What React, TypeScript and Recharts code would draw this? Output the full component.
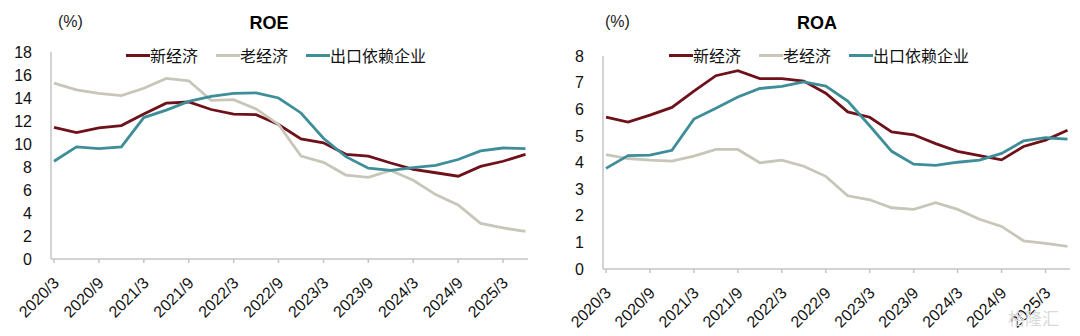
import { LineChart, Line, XAxis, YAxis } from "recharts";

const FONT = '"Liberation Sans", Arial, "Noto Sans CJK SC", sans-serif';
const CJK = '"Noto Sans CJK SC", "Liberation Sans", sans-serif';

const quarters = [
  "2020/3", "2020/6", "2020/9", "2020/12",
  "2021/3", "2021/6", "2021/9", "2021/12",
  "2022/3", "2022/6", "2022/9", "2022/12",
  "2023/3", "2023/6", "2023/9", "2023/12",
  "2024/3", "2024/6", "2024/9", "2024/12",
  "2025/3", "2025/6",
];

// ROE (%)
const roeNew = [11.45, 11.0, 11.4, 11.6, 12.6, 13.55, 13.65, 13.0, 12.6, 12.55, 11.7, 10.45, 10.1, 9.1, 8.95, 8.35, 7.8, 7.5, 7.2, 8.05, 8.5, 9.1];
const roeOld = [15.3, 14.7, 14.4, 14.2, 14.85, 15.7, 15.5, 13.8, 13.85, 13.05, 11.7, 8.95, 8.4, 7.3, 7.1, 7.7, 6.85, 5.6, 4.7, 3.1, 2.7, 2.4];
const roeExport = [8.5, 9.75, 9.6, 9.75, 12.3, 12.95, 13.7, 14.15, 14.4, 14.45, 14.0, 12.7, 10.5, 8.9, 7.9, 7.7, 7.95, 8.15, 8.65, 9.4, 9.65, 9.6];

// ROA (%)
const roaNew = [5.7, 5.52, 5.78, 6.07, 6.68, 7.26, 7.45, 7.15, 7.15, 7.06, 6.6, 5.9, 5.7, 5.15, 5.04, 4.71, 4.42, 4.26, 4.1, 4.6, 4.84, 5.21];
const roaOld = [4.3, 4.15, 4.09, 4.05, 4.24, 4.49, 4.49, 3.99, 4.09, 3.86, 3.48, 2.75, 2.6, 2.3, 2.24, 2.49, 2.24, 1.87, 1.6, 1.06, 0.96, 0.85];
const roaExport = [3.78, 4.26, 4.28, 4.46, 5.63, 6.04, 6.46, 6.78, 6.86, 7.03, 6.87, 6.31, 5.38, 4.42, 3.94, 3.89, 4.01, 4.09, 4.34, 4.81, 4.93, 4.88];

const roeTicks = [0, 2, 4, 6, 8, 10, 12, 14, 16, 18];
const roaTicks = [0, 1, 2, 3, 4, 5, 6, 7, 8];

const SERIES = [
  { key: "newEco", name: "新经济", color: "#6e111a" },
  { key: "oldEco", name: "老经济", color: "#c7c6b9" },
  { key: "exportDep", name: "出口依赖企业", color: "#3e8e9a" },
];

const AXIS = "#c4c4c4";

function buildRows(a: number[], b: number[], c: number[]) {
  return quarters.map((q, i) => ({ q, newEco: a[i], oldEco: b[i], exportDep: c[i] }));
}

function XTick({ x, y, payload }: any) {
  const ax = x + 6;
  const ay = y + 19;
  return (
    <text
      x={ax}
      y={ay}
      transform={`rotate(-45, ${ax}, ${ay})`}
      textAnchor="end"
      fontSize={16}
      fontFamily={FONT}
      fill="#111"
    >
      {payload.value}
    </text>
  );
}

function Panel({ cfg }: { cfg: any }) {
  const data = buildRows(cfg.a, cfg.b, cfg.c);
  return (
    <div style={{ position: "absolute", left: cfg.left, top: 0, width: 540, height: 336 }}>
      <LineChart
        width={540}
        height={336}
        data={data}
        margin={{ top: cfg.plotTop, right: 540 - cfg.plotRight, left: 0, bottom: 0 }}
      >
        <XAxis
          dataKey="q"
          interval={1}
          height={336 - cfg.plotBottom}
          padding={{ left: 3, right: 2.5 }}
          axisLine={{ stroke: AXIS, strokeWidth: 1.5 }}
          tickLine={{ stroke: AXIS, strokeWidth: 1.5 }}
          tickSize={4}
          tickMargin={2}
          tick={<XTick />}
        />
        <YAxis
          width={cfg.plotLeft}
          domain={[0, cfg.yMax]}
          ticks={cfg.ticks}
          interval={0}
          axisLine={{ stroke: AXIS, strokeWidth: 1.5 }}
          tickLine={false}
          tickSize={0}
          tickMargin={19}
          tick={{ fontSize: 16, fill: "#111", fontFamily: FONT }}
        />
        {SERIES.map((s) => (
          <Line
            key={s.key}
            type="linear"
            dataKey={s.key}
            name={s.name}
            stroke={s.color}
            strokeWidth={2.8}
            dot={false}
            isAnimationActive={false}
          />
        ))}
      </LineChart>
      <div
        style={{
          position: "absolute",
          left: cfg.pctX,
          top: 13,
          fontFamily: FONT,
          fontSize: 16,
          lineHeight: "18px",
          color: "#222",
        }}
      >
        (%)
      </div>
      <div
        style={{
          position: "absolute",
          left: cfg.titleX - 40,
          width: 80,
          textAlign: "center",
          top: 13,
          fontFamily: FONT,
          fontSize: 18,
          fontWeight: "bold",
          lineHeight: "20px",
          color: "#000",
        }}
      >
        {cfg.title}
      </div>
      <div
        style={{
          position: "absolute",
          left: cfg.legendX,
          top: 45,
          display: "flex",
          alignItems: "center",
          fontFamily: CJK,
          fontSize: 16,
          lineHeight: "20px",
          color: "#111",
          whiteSpace: "nowrap",
        }}
      >
        {SERIES.map((s, i) => (
          <div key={s.key} style={{ display: "flex", alignItems: "center", marginRight: i < 2 ? 18 : 0 }}>
            <span style={{ display: "inline-block", width: 24, height: 3, background: s.color }} />
            <span>{s.name}</span>
          </div>
        ))}
      </div>
    </div>
  );
}

const panels = [
  {
    left: 0, title: "ROE", a: roeNew, b: roeOld, c: roeExport, yMax: 18, ticks: roeTicks,
    plotLeft: 51, plotTop: 52, plotBottom: 259, plotRight: 528,
    titleX: 269, pctX: 58, legendX: 126,
  },
  {
    left: 540, title: "ROA", a: roaNew, b: roaOld, c: roaExport, yMax: 8, ticks: roaTicks,
    plotLeft: 63, plotTop: 56, plotBottom: 269, plotRight: 530,
    titleX: 277, pctX: 65, legendX: 129,
  },
];

export default function App() {
  return (
    <div style={{ position: "absolute", left: 0, top: 0, width: 1080, height: 336, background: "#fff", overflow: "hidden" }}>
      {panels.map((p) => (
        <Panel key={p.title} cfg={p} />
      ))}
      <div
        style={{
          position: "absolute",
          left: 1008,
          top: 308,
          fontFamily: CJK,
          fontSize: 17,
          color: "#d9d9d9",
          lineHeight: "20px",
        }}
      >
        格隆汇
      </div>
    </div>
  );
}
